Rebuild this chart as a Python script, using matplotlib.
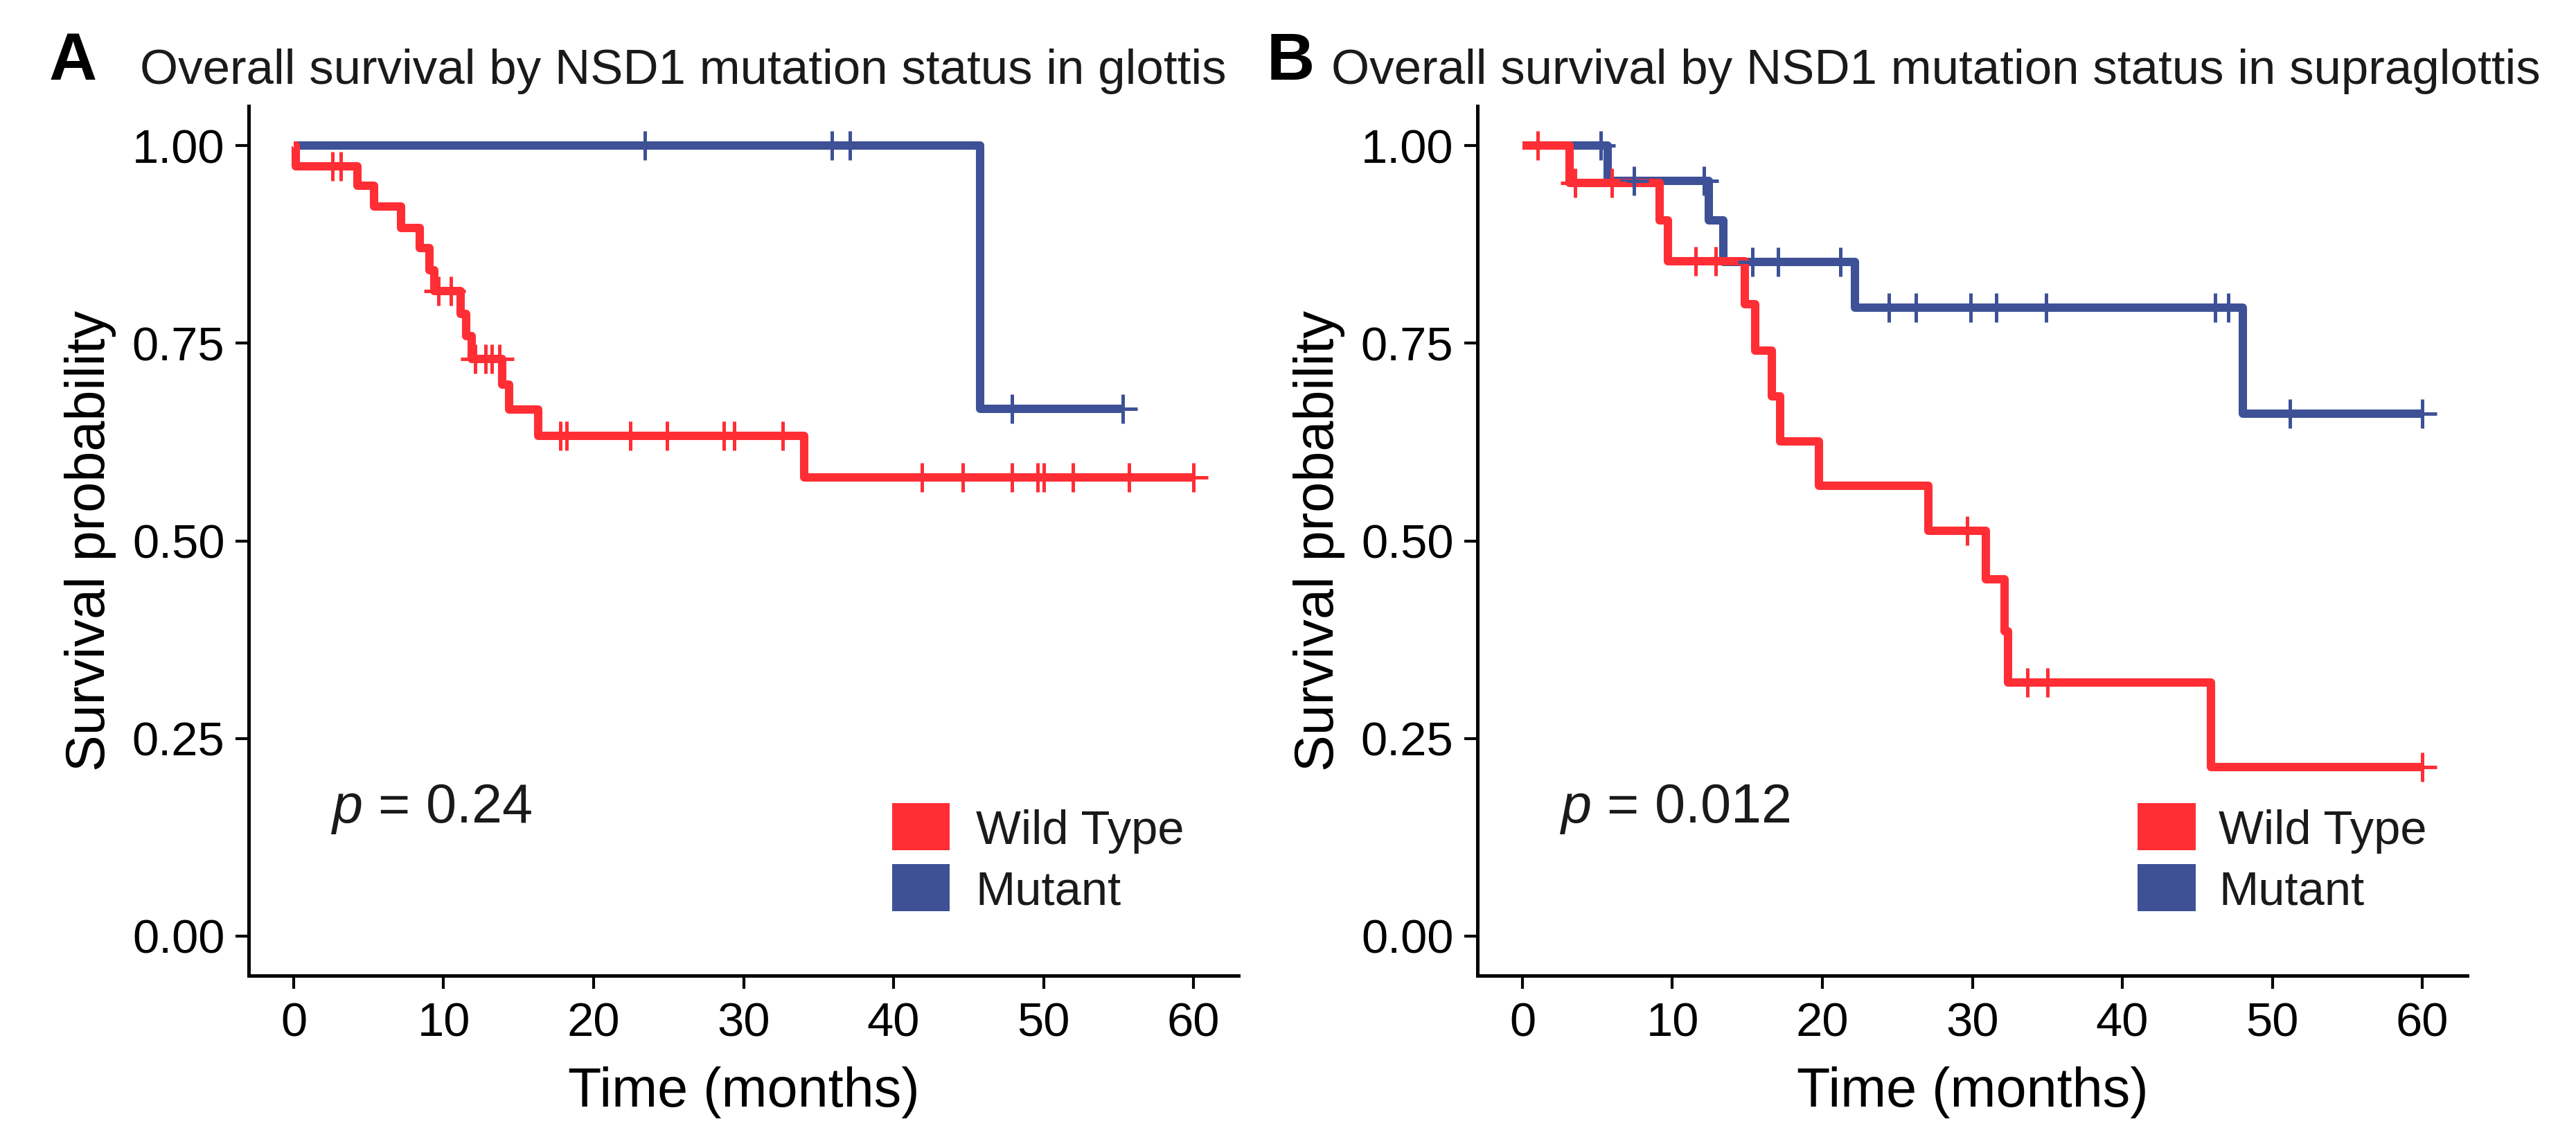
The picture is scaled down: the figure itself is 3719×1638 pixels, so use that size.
import numpy as np
import matplotlib
matplotlib.use("Agg")
import matplotlib.pyplot as plt
from matplotlib.patches import Rectangle

plt.rcParams["font.family"] = ["Liberation Sans", "DejaVu Sans"]
plt.rcParams["mathtext.fontset"] = "custom"
plt.rcParams["mathtext.rm"] = "Liberation Sans"
plt.rcParams["mathtext.it"] = "Liberation Sans:italic"

RED = "#FF2E35"
BLUE = "#3E5197"
GROUPS = ["Wild Type", "Mutant"]

# ---- panel A: glottis (step times / survival levels) ----
a_wt_t = [0.0, 0.15, 4.23, 5.35, 7.15, 8.41, 9.07, 9.38, 11.15, 11.49, 11.89,
          13.89, 14.38, 16.3, 34.06]
a_wt_s = [1.0, 0.974, 0.949, 0.923, 0.896, 0.870, 0.842, 0.816, 0.787, 0.759,
          0.730, 0.698, 0.666, 0.633, 0.580]
a_wt_end = 60.0
a_wt_cens = [2.57, 3.13, 9.66, 10.5, 12.1, 12.8, 13.22, 13.73, 17.8, 18.2,
             22.45, 24.9, 28.7, 29.36, 32.6, 41.9, 44.6, 47.9, 49.6, 50.0,
             51.97, 55.7, 60.0]

a_mu_t = [0.0, 45.75]
a_mu_s = [1.0, 0.667]
a_mu_end = 55.3
a_mu_cens = [23.4, 35.9, 37.1, 47.9, 55.3]

# ---- panel B: supraglottis ----
b_wt_t = [0.0, 3.16, 9.13, 9.71, 14.84, 15.52, 16.64, 17.17, 19.78, 27.05,
          30.9, 32.15, 32.4, 45.9]
b_wt_s = [1.0, 0.953, 0.905, 0.854, 0.799, 0.741, 0.683, 0.626, 0.570, 0.513,
          0.451, 0.386, 0.321, 0.214]
b_wt_end = 60.0
b_wt_cens = [1.0, 3.5, 5.98, 11.54, 12.9, 29.65, 33.67, 35.0, 60.0]

b_mu_t = [0.0, 5.69, 12.43, 13.4, 22.17, 48.03]
b_mu_s = [1.0, 0.955, 0.905, 0.853, 0.795, 0.661]
b_mu_end = 60.0
b_mu_cens = [5.22, 7.44, 12.12, 15.35, 17.06, 21.19, 24.42, 26.23, 29.9,
             31.6, 34.9, 46.2, 47.07, 51.16, 60.0]

titles = ["Overall survival by NSD1 mutation status in glottis",
          "Overall survival by NSD1 mutation status in supraglottis"]
pvals = ["0.24", "0.012"]
x_ticks = [0, 10, 20, 30, 40, 50, 60]
y_ticks = [0.0, 0.25, 0.50, 0.75, 1.0]


def draw_curve(ax, t, s, end, cens, color, zorder):
    t = np.asarray(t, float)
    s = np.asarray(s, float)
    xs = np.r_[t, end]
    ys = np.r_[s, s[-1]]
    ax.step(xs, ys, where="post", color=color, lw=2.9, zorder=zorder,
            solid_joinstyle="round", solid_capstyle="butt")
    c = np.asarray(cens, float)
    cy = s[np.searchsorted(t, c, side="right") - 1]
    ax.plot(c, cy, ls="none", marker="+", ms=10, mew=1.2, color=color,
            zorder=5)


def style_axes(ax):
    ax.set_xlim(-3, 63)
    ax.set_ylim(-0.05, 1.05)
    ax.set_xticks(x_ticks)
    ax.set_yticks(y_ticks)
    ax.set_yticklabels([f"{v:.2f}" for v in y_ticks])
    for sp in ("top", "right"):
        ax.spines[sp].set_visible(False)
    for sp in ("left", "bottom"):
        ax.spines[sp].set_linewidth(1.2)
        ax.spines[sp].set_color("black")
    ax.tick_params(axis="both", length=4.5, width=1.0, labelsize=16.5,
                   colors="black")
    ax.tick_params(axis="x", pad=4.5)
    ax.tick_params(axis="y", pad=3.8)
    ax.set_xlabel("Time (months)", fontsize=19, labelpad=7)
    ax.set_ylabel("Survival probability", fontsize=19, labelpad=5.5)


def draw_legend(ax, x0, xt):
    w = 0.0585
    rows = [(0.1442, 0.1713), (0.0741, 0.1012)]
    for (yb, yc), col, lab in zip(rows, [RED, BLUE], GROUPS):
        ax.add_patch(Rectangle((x0, yb), w, 0.0542, transform=ax.transAxes,
                               facecolor=col, edgecolor="none", clip_on=False))
        ax.text(xt, yc, lab, transform=ax.transAxes, fontsize=16.5,
                va="center_baseline", ha="left", color="#1a1a1a")


W, H = 3719, 1638
fig = plt.figure(figsize=(W / 300, H / 300), dpi=300)
axA = fig.add_axes([359 / W, 1 - 1408 / H, 1429 / W, 1255 / H])
axB = fig.add_axes([2133 / W, 1 - 1408 / H, 1429 / W, 1255 / H])

draw_curve(axA, a_mu_t, a_mu_s, a_mu_end, a_mu_cens, BLUE, 2)
draw_curve(axA, a_wt_t, a_wt_s, a_wt_end, a_wt_cens, RED, 3)
draw_curve(axB, b_mu_t, b_mu_s, b_mu_end, b_mu_cens, BLUE, 2)
draw_curve(axB, b_wt_t, b_wt_s, b_wt_end, b_wt_cens, RED, 3)

for ax, pv in zip([axA, axB], pvals):
    style_axes(ax)
    ax.text(2.5, 0.144, r"$\it{p}$ = " + pv, fontsize=19, va="baseline",
            ha="left", color="#1a1a1a")

draw_legend(axA, 0.650, 0.7345)
draw_legend(axB, 0.6669, 0.7488)

fig.text(71 / W, 1 - 115 / H, "A", fontsize=23, fontweight="bold",
         va="baseline", ha="left")
fig.text(201.7 / W, 1 - 121 / H, titles[0], fontsize=17, va="baseline",
         ha="left", color="#1a1a1a")
fig.text(1829 / W, 1 - 115 / H, "B", fontsize=23, fontweight="bold",
         va="baseline", ha="left")
fig.text(1921.7 / W, 1 - 121 / H, titles[1], fontsize=17, va="baseline",
         ha="left", color="#1a1a1a")

fig.savefig("out.png", dpi=300)
